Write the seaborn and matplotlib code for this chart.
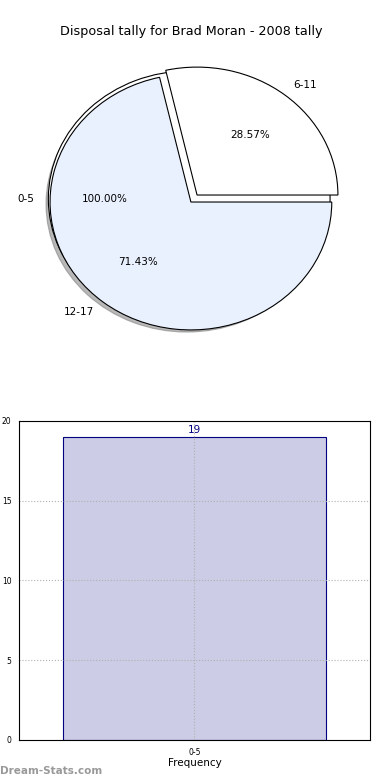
import matplotlib
matplotlib.use("Agg")
import matplotlib.pyplot as plt
import seaborn as sns
import pandas as pd

# pie data
pie_labels = ["6-11", "12-17"]
pie_counts = [2, 5]
pie_colors = ["#ffffff", "#eaf1fe"]
full_label = "0-5"

# bar data
bar_cats = ["0-5"]
bar_vals = [19]

sns.set_style("white")
plt.rcParams["font.family"] = ["DejaVu Sans"]
plt.rcParams["text.color"] = "black"
plt.rcParams["axes.labelcolor"] = "black"
plt.rcParams["xtick.color"] = "black"
plt.rcParams["ytick.color"] = "black"

fig = plt.figure(figsize=(3.9, 7.8), dpi=100)

# --- pie ---
ax1 = fig.add_axes([0.038, 0.536, 0.903, 0.41])
ax1.pie([1], labels=[full_label], colors=["#ffffff"], autopct="%1.2f%%",
        center=(-0.012, 0.025), shadow={"ox": -0.012, "oy": -0.03, "shade": 0.55},
        startangle=0, wedgeprops={"edgecolor": "black", "linewidth": 0.8},
        textprops={"fontsize": 7.5})
ax1.pie(pie_counts, labels=pie_labels, colors=pie_colors, autopct="%1.2f%%",
        explode=[0.07, 0.0], startangle=0,
        wedgeprops={"edgecolor": "black", "linewidth": 0.8},
        textprops={"fontsize": 7.5})
ax1.set_xlim(-1.25, 1.25)
ax1.set_ylim(-1.25, 1.25)
ax1.set_aspect("auto")
ax1.set_title("Disposal tally for Brad Moran - 2008 tally", fontsize=9.2, pad=5)

# --- bar ---
ax2 = fig.add_axes([0.0487, 0.0513, 0.9, 0.409])
df = pd.DataFrame({"range": bar_cats, "count": bar_vals})
sns.barplot(data=df, x="range", y="count", ax=ax2, color="#ccccE6",
            edgecolor="#000080", linewidth=0.8, width=0.9, saturation=1)
for p, v in zip(ax2.patches, bar_vals):
    ax2.text(p.get_x() + p.get_width() / 2, v + 0.15, str(v), ha="center",
             va="bottom", color="#000080", fontsize=7.5)
ax2.set_xlim(-0.6, 0.6)
ax2.set_ylim(0, 20)
ax2.set_yticks([0, 5, 10, 15, 20])
ax2.grid(True, linestyle=":", color="#b0b0b0", linewidth=0.8)
ax2.set_axisbelow(False)
for s in ax2.spines.values():
    s.set_color("black")
    s.set_linewidth(0.8)
    s.set_zorder(5)
ax2.tick_params(labelsize=5.5, length=2)
ax2.set_xlabel("Frequency", fontsize=7.5, labelpad=1)
ax2.set_ylabel("Disposal tally", fontsize=7)
ax2.yaxis.set_label_coords(-0.055, 0.5)

fig.text(0.0, 0.012, "Dream-Stats.com", color="#999999", fontsize=7.5,
         fontweight="bold", ha="left", va="center")

fig.savefig("out.png", dpi=100)
